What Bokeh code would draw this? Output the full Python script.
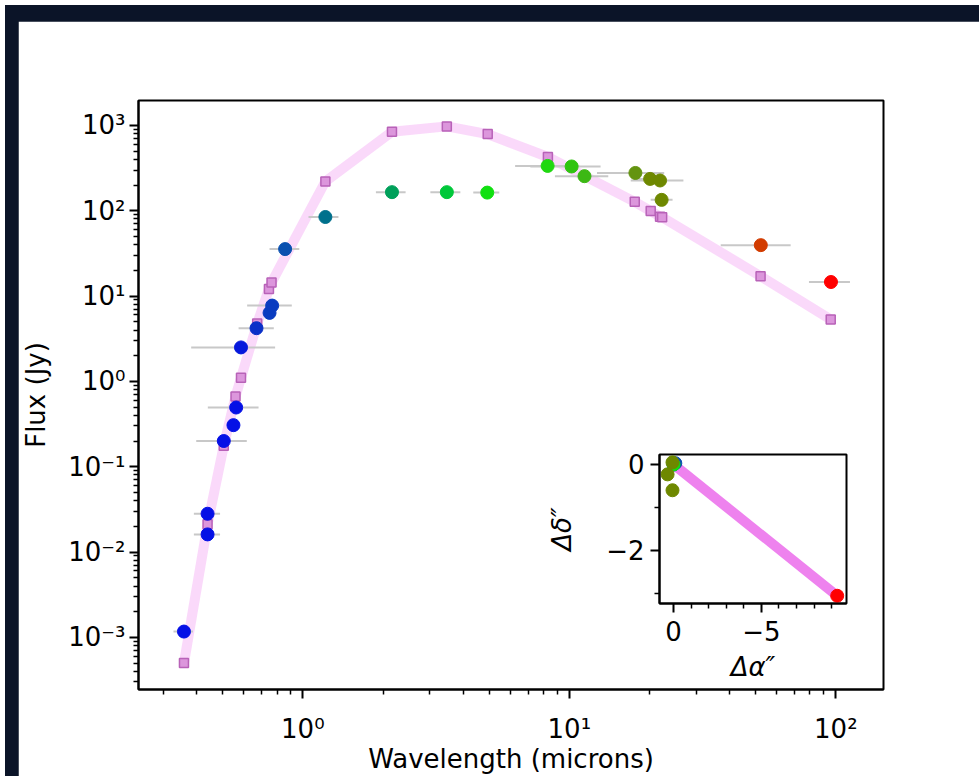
from bokeh.plotting import figure
from bokeh.models import Range1d, FixedTicker, CustomJSTickFormatter, ColumnDataSource, Div
from bokeh.embed import file_html
from bokeh.resources import INLINE

# ---------------- data ----------------
# observed photometry (wavelength in microns, flux in Jy)
obs_wave = [0.358, 0.439, 0.439, 0.505, 0.549, 0.562, 0.586, 0.670, 0.750, 0.767, 0.858,
            1.215, 2.16, 3.47, 4.92, 8.29, 10.2, 11.4, 17.7, 20.1, 21.9, 22.2, 52.3, 95.9]
obs_flux = [1.17e-3, 0.0281, 0.0161, 0.20, 0.307, 0.494, 2.50, 4.2, 6.35, 7.73, 35.5,
            84.4, 165, 165, 163, 335, 330, 254, 277, 236, 226, 134, 39.5, 14.6]
obs_wlo = [0.327, 0.390, 0.390, 0.398, 0.535, 0.440, 0.381, 0.574, 0.735, 0.618, 0.75,
           1.05, 1.88, 3.01, 4.36, 6.26, 7.14, 8.83, 12.7, 17.5, 17.0, 20.2, 37.0, 79.3]
obs_whi = [0.387, 0.489, 0.489, 0.616, 0.565, 0.682, 0.787, 0.778, 0.765, 0.909, 0.97,
           1.36, 2.43, 3.90, 5.46, 10.9, 13.1, 14.0, 22.7, 23.0, 26.8, 24.4, 67.7, 113]
obs_colors = ["#0510e6", "#0510e6", "#0510e6", "#0510e6", "#0510e6", "#0510e6", "#0518dc",
              "#0a30c8", "#0a3cc0", "#0a3cc0", "#0a50b0", "#00708c", "#00a05a", "#00c83a",
              "#10e010", "#20d810", "#30c410", "#3cb814", "#649410", "#6e8800", "#6e8800",
              "#6e8800", "#d23c00", "#ff0000"]

# model SED
model_wave = [0.358, 0.439, 0.505, 0.559, 0.586, 0.674, 0.746, 0.763, 1.215, 2.16, 3.47,
              4.94, 8.31, 17.6, 20.2, 21.9, 22.3, 52.2, 95.7]
model_flux = [5.0e-4, 0.0211, 0.176, 0.665, 1.10, 4.76, 12.1, 14.4, 220, 843, 973,
              791, 426, 127, 99, 85, 84, 17.1, 5.3]

# inset: positional offsets (arcsec)
off_ra = [0.0, -0.1, 0.0, 0.06, 0.34, 0.06, -9.32]
off_dec = [0.0, 0.03, 0.0, 0.05, -0.23, -0.6, -3.06]
off_colors = ["#0510e6", "#0a50b0", "#10e010", "#6e8800", "#6e8800", "#6e8800", "#ff0000"]
track_ra = [0.0, -9.32]
track_dec = [0.0, -3.06]

y_major = [1e-3, 1e-2, 1e-1, 1e0, 1e1, 1e2, 1e3]
x_major = [1.0, 10.0, 100.0]

FONT = "DejaVu Sans"
FS = "26px"

sup_fmt = CustomJSTickFormatter(code="""
const e = Math.round(Math.log10(tick));
const m = {'-':'\u207b','0':'\u2070','1':'\u00b9','2':'\u00b2','3':'\u00b3','4':'\u2074',
           '5':'\u2075','6':'\u2076','7':'\u2077','8':'\u2078','9':'\u2079'};
return '10' + String(e).split('').map(c => m[c]).join('');
""")
lin_fmt = CustomJSTickFormatter(code="""
return tick < 0 ? '\u2212' + String(Math.abs(tick)) : String(tick);
""")


def style_axis(ax):
    ax.axis_line_width = 2
    ax.axis_line_color = "black"
    ax.major_tick_line_width = 2
    ax.minor_tick_line_width = 1.5
    ax.major_tick_out = 9
    ax.major_tick_in = 0
    ax.minor_tick_out = 5
    ax.minor_tick_in = 0
    ax.major_label_text_font = FONT
    ax.major_label_text_font_size = FS
    ax.major_label_text_color = "black"
    ax.axis_label_text_font = FONT
    ax.axis_label_text_font_size = FS
    ax.axis_label_text_font_style = "normal"
    ax.axis_label_text_color = "black"


# ---------------- page background ----------------
bg = Div(text="", width=979, height=776,
         styles={"position": "absolute", "left": "0px", "top": "0px",
                 "background-color": "#0b1428"})

# ---------------- main figure ----------------
p = figure(width=961, height=755, x_axis_type="log", y_axis_type="log",
           x_range=Range1d(0.2417, 151), y_range=Range1d(2.45e-4, 1957),
           output_backend="svg", toolbar_location=None,
           min_border_left=119, min_border_right=96, min_border_top=79, min_border_bottom=84,
           styles={"position": "absolute", "left": "18px", "top": "21px"})
p.grid.visible = False
p.background_fill_color = "white"
p.border_fill_color = "white"
p.outline_line_color = "black"
p.outline_line_width = 2

src = ColumnDataSource(dict(x=obs_wave, y=obs_flux, lo=obs_wlo, hi=obs_whi, c=obs_colors))
msrc = ColumnDataSource(dict(x=model_wave, y=model_flux))

p.line("x", "y", source=msrc, line_color="violet", line_alpha=0.3, line_width=10)
p.segment(x0="lo", y0="y", x1="hi", y1="y", source=src, line_color="#c8c8c8", line_width=2)
p.scatter("x", "y", source=msrc, marker="square", size=9, fill_color="#dc96dc",
          line_color="#b862b8", line_width=1.5)
p.scatter("x", "y", source=src, marker="circle", size=13, fill_color="c", line_color="c")

style_axis(p.xaxis[0])
style_axis(p.yaxis[0])
minor_y = [k * 10.0 ** e for e in range(-4, 4) for k in range(2, 10)]
minor_x = [k * 10.0 ** e for e in range(-1, 3) for k in range(2, 10)]
p.yaxis[0].ticker = FixedTicker(ticks=y_major, minor_ticks=minor_y)
p.xaxis[0].ticker = FixedTicker(ticks=x_major, minor_ticks=minor_x)
p.yaxis[0].formatter = sup_fmt
p.xaxis[0].formatter = sup_fmt
p.xaxis[0].axis_label = "Wavelength (microns)"
p.yaxis[0].axis_label = "Flux (Jy)"
p.xaxis[0].major_label_standoff = 15
p.xaxis[0].axis_label_standoff = -3
p.yaxis[0].major_label_standoff = 4
p.yaxis[0].axis_label_standoff = 14

# ---------------- inset ----------------
ins = figure(frame_width=187, frame_height=149,
             x_range=Range1d(0.8, -9.85), y_range=Range1d(-3.24, 0.233),
             output_backend="svg", toolbar_location=None,
             min_border_left=140, min_border_right=14, min_border_top=14, min_border_bottom=87,
             styles={"position": "absolute", "left": "519px", "top": "440px"})
ins.grid.visible = False
ins.background_fill_color = "white"
ins.border_fill_alpha = 0
ins.outline_line_color = "black"
ins.outline_line_width = 2
ins.line(track_ra, track_dec, line_color="violet", line_width=10)
ins.scatter(off_ra, off_dec, marker="circle", size=13, fill_color=off_colors, line_color=off_colors)
style_axis(ins.xaxis[0])
style_axis(ins.yaxis[0])
ins.xaxis[0].ticker = FixedTicker(ticks=[0, -5], minor_ticks=[-1, -2, -3, -4, -6, -7, -8, -9])
ins.yaxis[0].ticker = FixedTicker(ticks=[0, -2], minor_ticks=[-1, -3])
ins.xaxis[0].formatter = lin_fmt
ins.yaxis[0].formatter = lin_fmt
ins.xaxis[0].axis_label = "\u0394\u03b1\u2033"
ins.yaxis[0].axis_label = "\u0394\u03b4\u2033"
ins.xaxis[0].axis_label_text_font_style = "italic"
ins.yaxis[0].axis_label_text_font_style = "italic"
ins.xaxis[0].major_label_standoff = 8
ins.yaxis[0].major_label_standoff = 6
ins.xaxis[0].axis_label_standoff = 8
ins.yaxis[0].axis_label_standoff = 26

open("out.html", "w").write(file_html([bg, p, ins], INLINE))
